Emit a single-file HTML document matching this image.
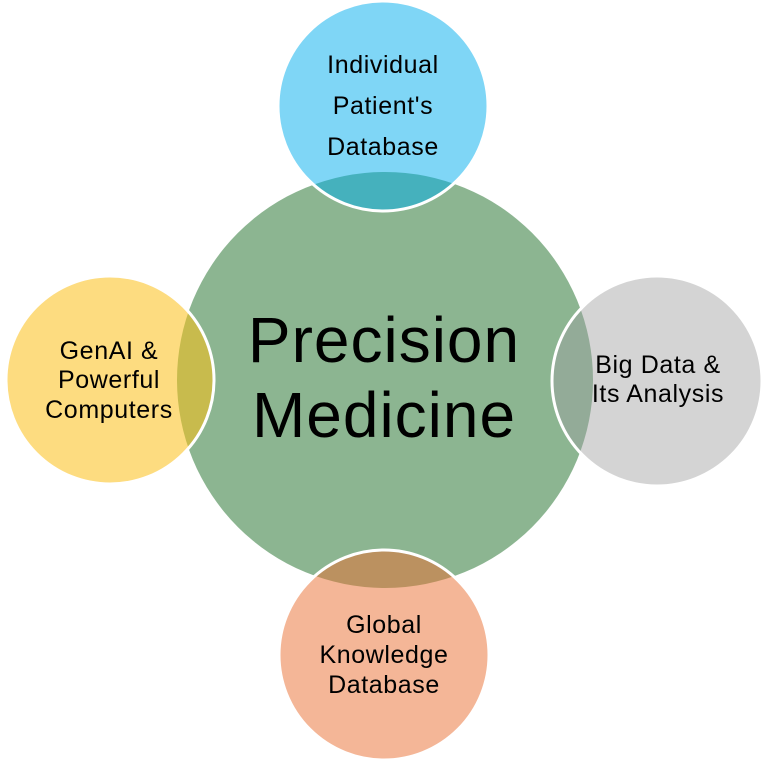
<!DOCTYPE html>
<html><head><style>
html,body{margin:0;padding:0;background:#fff;}
svg{display:block;}
text{font-family:"Liberation Sans",sans-serif;fill:#000;text-anchor:middle;dominant-baseline:central;}
.s{font-size:25px;letter-spacing:0.6px;}
</style></head><body>
<svg width="768" height="768" viewBox="0 0 768 768">
<defs>
<clipPath id="c"><circle cx="385" cy="380" r="208"/></clipPath>
</defs>
<circle cx="385" cy="380" r="208" fill="#8cb591"/>
<circle cx="383" cy="106" r="105" fill="#7fd6f6"/>
<circle cx="383" cy="106" r="105" fill="#45b1bd" clip-path="url(#c)"/>
<circle cx="383" cy="106" r="105" fill="none" stroke="#fff" stroke-width="3"/>
<circle cx="110" cy="380" r="104" fill="#fddc80"/>
<circle cx="110" cy="380" r="104" fill="#c8bb4d" clip-path="url(#c)"/>
<circle cx="110" cy="380" r="104" fill="none" stroke="#fff" stroke-width="3"/>
<circle cx="657" cy="381" r="105" fill="#d4d4d4"/>
<circle cx="657" cy="381" r="105" fill="#93ab98" clip-path="url(#c)"/>
<circle cx="657" cy="381" r="105" fill="none" stroke="#fff" stroke-width="3"/>
<circle cx="384" cy="655" r="105" fill="#f4b697"/>
<circle cx="384" cy="655" r="105" fill="#bb9160" clip-path="url(#c)"/>
<circle cx="384" cy="655" r="105" fill="none" stroke="#fff" stroke-width="3"/>

<text x="384" y="340" font-size="64" letter-spacing="1">Precision</text>
<text x="384" y="415" font-size="64" letter-spacing="1">Medicine</text>

<text class="s" x="383" y="65">Individual</text>
<text class="s" x="383" y="106">Patient's</text>
<text class="s" x="383" y="147">Database</text>

<text class="s" x="109" y="351">GenAI &amp;</text>
<text class="s" x="109" y="380">Powerful</text>
<text class="s" x="109" y="410">Computers</text>

<text class="s" x="658" y="365">Big Data &amp;</text>
<text class="s" x="658" y="394">Its Analysis</text>

<text class="s" x="384" y="625">Global</text>
<text class="s" x="384" y="655">Knowledge</text>
<text class="s" x="384" y="685">Database</text>
</svg>
</body></html>
